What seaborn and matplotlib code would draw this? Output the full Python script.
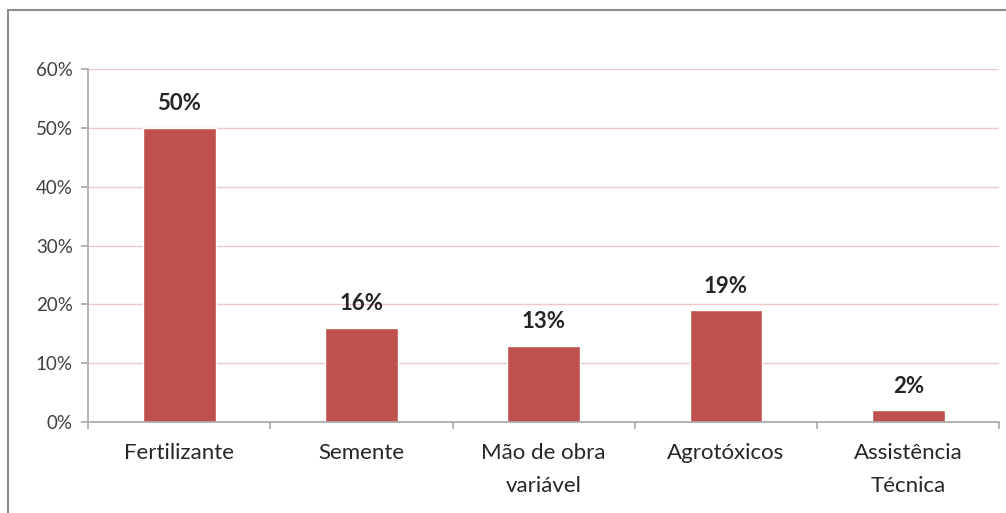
import matplotlib
matplotlib.use("Agg")
import matplotlib.pyplot as plt
from matplotlib.patches import Rectangle
import seaborn as sns
import pandas as pd

categories = ["Fertilizante", "Semente", "Mão de obra\nvariável", "Agrotóxicos", "Assistência\nTécnica"]
values = [50, 16, 13, 19, 2]
y_ticks = [0, 10, 20, 30, 40, 50, 60]

df = pd.DataFrame({"categoria": categories, "percentual": values})

sns.set_theme(style="white")
plt.rcParams["font.family"] = ["Lato", "DejaVu Sans"]

fig = plt.figure(figsize=(10.06, 5.13), dpi=100)
ax = fig.add_axes([0.0875, 0.177, 0.906, 0.6885])

sns.barplot(data=df, x="categoria", y="percentual", color="#C0504D",
            saturation=1, width=0.4, ax=ax)

ax.set_ylim(0, 60)
ax.set_xlim(-0.5, len(categories) - 0.5)
ax.set_yticks(y_ticks)
ax.set_yticklabels([f"{v}%" for v in y_ticks], fontsize=13.5, color="#404040")
ax.set_xticks(range(len(categories)))
ax.set_xticklabels(categories, fontsize=16, color="#262626", linespacing=1.8)
ax.set_xlabel("")
ax.set_ylabel("")

# light red horizontal gridlines
for v in y_ticks[1:]:
    ax.axhline(v, color="#F0C8C8", linewidth=1.0, zorder=0)

for side in ["top", "right"]:
    ax.spines[side].set_visible(False)
for side in ["left", "bottom"]:
    ax.spines[side].set_color("#A6A6A6")
    ax.spines[side].set_linewidth(1.2)

# category boundary ticks on x axis
ax.set_xticks([i - 0.5 for i in range(len(categories) + 1)], minor=True)
ax.tick_params(axis="x", which="major", length=0, pad=15)
ax.tick_params(axis="x", which="minor", length=5, color="#A6A6A6", width=1.2, direction="out")
ax.tick_params(axis="y", length=5, color="#A6A6A6", width=1.2, direction="out", pad=6)
ax.yaxis.set_ticks_position("left")
ax.xaxis.set_ticks_position("bottom")

for i, v in enumerate(values):
    ax.text(i, v + 2.3, f"{v}%", ha="center", va="bottom",
            fontsize=16, fontweight="bold", color="#262626")

# outer chart frame
fig.patches.append(Rectangle((8 / 1006, -0.01), 1.0, 1 - 10 / 513 + 0.01,
                             transform=fig.transFigure, fill=False,
                             edgecolor="#8C8C8C", linewidth=1.5))

fig.savefig("out.png", dpi=100)
